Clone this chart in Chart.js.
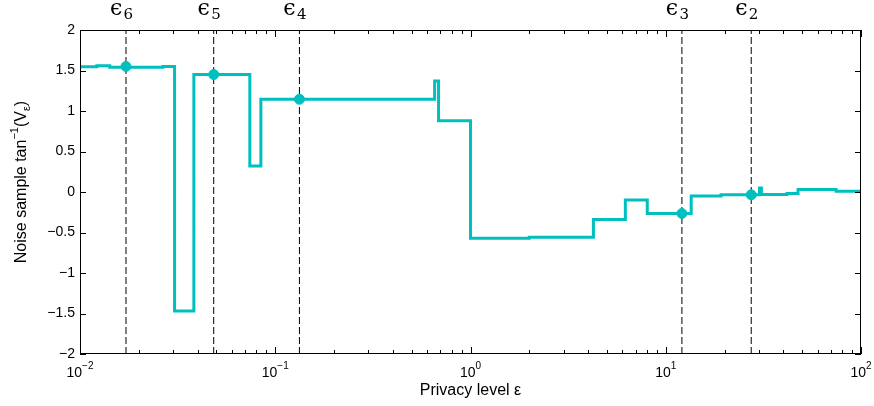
<!DOCTYPE html>
<html>
<head>
<meta charset="utf-8">
<script src="https://cdn.jsdelivr.net/npm/chart.js@4.4.0/dist/chart.umd.min.js"></script>
<style>
  html, body { margin: 0; background: #fff; }
  #wrap { width: 874px; height: 406px; }
</style>
</head>
<body>
<div id="wrap"><canvas id="chart"></canvas></div>
<script>
// --- Data ---
// step line: each level holds from its x until the next x
const stepX = [0.01, 0.0122, 0.0142, 0.0266, 0.0305, 0.0383, 0.0741, 0.0844, 0.655, 0.686, 1.0, 2.0, 4.26, 6.21, 8.04, 13.5, 19.2, 30.2, 30.9, 41.8, 47.6, 74.5, 100];
const stepY = [1.545, 1.56, 1.54, 1.55, -1.47, 1.45, 0.32, 1.145, 1.37, 0.88, -0.57, -0.56, -0.34, -0.1, -0.265, -0.05, -0.035, 0.05, -0.03, -0.02, 0.03, 0.01, 0.01];

// privacy levels marked with dashed lines
const epsNames = ['6', '5', '4', '3', '2'];
const epsX = [0.0172, 0.0484, 0.133, 12.1, 27.4];
const epsY = [1.55, 1.45, 1.145, -0.265, -0.035];

// axis ticks
const yTicks = [-2, -1.5, -1, -0.5, 0, 0.5, 1, 1.5, 2];
const xDecades = [0.01, 0.1, 1, 10, 100];
const xExponents = ['-2', '-1', '0', '1', '2'];

const CYAN = '#00bfbf';
const SANS = '"Liberation Sans", Arial, sans-serif';

// --- Frame, ticks, labels ---
const framePlugin = {
    id: 'frame',
    afterDraw(chart) {
        const { ctx, chartArea: a, scales: { x, y } } = chart;
        ctx.save();
        ctx.strokeStyle = '#000';
        ctx.lineWidth = 1;
        ctx.strokeRect(a.left + 0.5, a.top + 0.5, a.right - a.left - 1, a.bottom - a.top - 1);

        ctx.beginPath();
        // y ticks, both sides, inward
        yTicks.forEach(v => {
            const py = Math.round(y.getPixelForValue(v)) + 0.5;
            ctx.moveTo(a.left, py); ctx.lineTo(a.left + 6, py);
            ctx.moveTo(a.right, py); ctx.lineTo(a.right - 6, py);
        });
        // x ticks, top and bottom, inward
        xDecades.forEach((d, i) => {
            const px = Math.round(x.getPixelForValue(d)) + 0.5;
            ctx.moveTo(px, a.bottom); ctx.lineTo(px, a.bottom - 7);
            ctx.moveTo(px, a.top); ctx.lineTo(px, a.top + 7);
            if (i < xDecades.length - 1) {
                for (let m = 2; m <= 9; m++) {
                    const mx = Math.round(x.getPixelForValue(d * m)) + 0.5;
                    ctx.moveTo(mx, a.bottom); ctx.lineTo(mx, a.bottom - 4);
                    ctx.moveTo(mx, a.top); ctx.lineTo(mx, a.top + 4);
                }
            }
        });
        ctx.stroke();

        ctx.fillStyle = '#000';
        // y tick labels
        ctx.font = '14px ' + SANS;
        ctx.textAlign = 'right';
        ctx.textBaseline = 'middle';
        yTicks.forEach(v => {
            const txt = (v < 0 ? '\u2212' : '') + Math.abs(v);
            ctx.fillText(txt, a.left - 5, y.getPixelForValue(v));
        });

        // x tick labels: 10 with superscript exponent
        ctx.textAlign = 'left';
        ctx.textBaseline = 'alphabetic';
        xDecades.forEach((d, i) => {
            const exp = xExponents[i].replace('-', '\u2212');
            ctx.font = '14px ' + SANS;
            const wBase = ctx.measureText('10').width;
            ctx.font = '10px ' + SANS;
            const wExp = ctx.measureText(exp).width;
            const left = x.getPixelForValue(d) - (wBase + wExp) / 2;
            ctx.font = '14px ' + SANS;
            ctx.fillText('10', left, 377);
            ctx.font = '10px ' + SANS;
            ctx.fillText(exp, left + wBase, 369);
        });

        // x title
        ctx.font = '16px ' + SANS;
        ctx.textAlign = 'center';
        ctx.fillText('Privacy level \u03b5', (a.left + a.right) / 2, 395);

        // y title, rotated
        ctx.save();
        ctx.translate(26, 182);
        ctx.rotate(-Math.PI / 2);
        const parts = [
            ['Noise sample tan', 16, 0],
            ['\u22121', 11, -8],
            ['(V', 16, 0],
            ['\u03b5', 11, 4],
            [')', 16, 0]
        ];
        let total = 0;
        parts.forEach(p => { ctx.font = p[1] + 'px ' + SANS; total += ctx.measureText(p[0]).width; });
        let cx = -total / 2;
        ctx.textAlign = 'left';
        parts.forEach(p => {
            ctx.font = p[1] + 'px ' + SANS;
            ctx.fillText(p[0], cx, p[2]);
            cx += ctx.measureText(p[0]).width;
        });
        ctx.restore();

        // epsilon labels above the dashed lines
        epsX.forEach((e, i) => {
            ctx.font = '22px "DejaVu Serif", serif';
            const wE = ctx.measureText('\u03f5').width;
            ctx.font = '15px "DejaVu Serif", serif';
            const wS = ctx.measureText(epsNames[i]).width;
            const left = x.getPixelForValue(e) - (wE + wS) / 2 + 1;
            ctx.font = '22px "DejaVu Serif", serif';
            ctx.fillText('\u03f5', left, 15);
            ctx.font = '15px "DejaVu Serif", serif';
            ctx.fillText(epsNames[i], left + wE, 19);
        });
        ctx.restore();
    }
};

// --- Datasets ---
const stepData = stepX.map((v, i) => ({ x: v, y: stepY[i] }));
const markerData = epsX.map((v, i) => ({ x: v, y: epsY[i] }));
const dashedSets = epsX.map(e => ({
    data: [{ x: e, y: -2 }, { x: e, y: 2 }],
    borderColor: '#000',
    borderWidth: 1,
    borderDash: [7, 3],
    pointRadius: 0,
    order: 3
}));

new Chart(document.getElementById('chart'), {
    type: 'line',
    data: {
        datasets: [
            {
                data: markerData,
                showLine: false,
                pointRadius: 5,
                pointBackgroundColor: CYAN,
                pointBorderColor: CYAN,
                order: 0
            },
            {
                data: stepData,
                stepped: 'before',
                borderColor: CYAN,
                borderWidth: 3,
                pointRadius: 0,
                order: 1
            },
            ...dashedSets
        ]
    },
    options: {
        responsive: true,
        maintainAspectRatio: false,
        animation: false,
        layout: { padding: { left: 80, right: 13, top: 30, bottom: 52 } },
        plugins: { legend: { display: false }, tooltip: { enabled: false } },
        scales: {
            x: {
                type: 'logarithmic',
                min: 0.01,
                max: 100,
                grid: { display: false },
                border: { display: false },
                ticks: { display: false },
                afterFit: s => { s.height = 0; }
            },
            y: {
                min: -2,
                max: 2,
                grid: { display: false },
                border: { display: false },
                ticks: { display: false },
                afterFit: s => { s.width = 0; }
            }
        }
    },
    plugins: [framePlugin]
});
</script>
</body>
</html>
